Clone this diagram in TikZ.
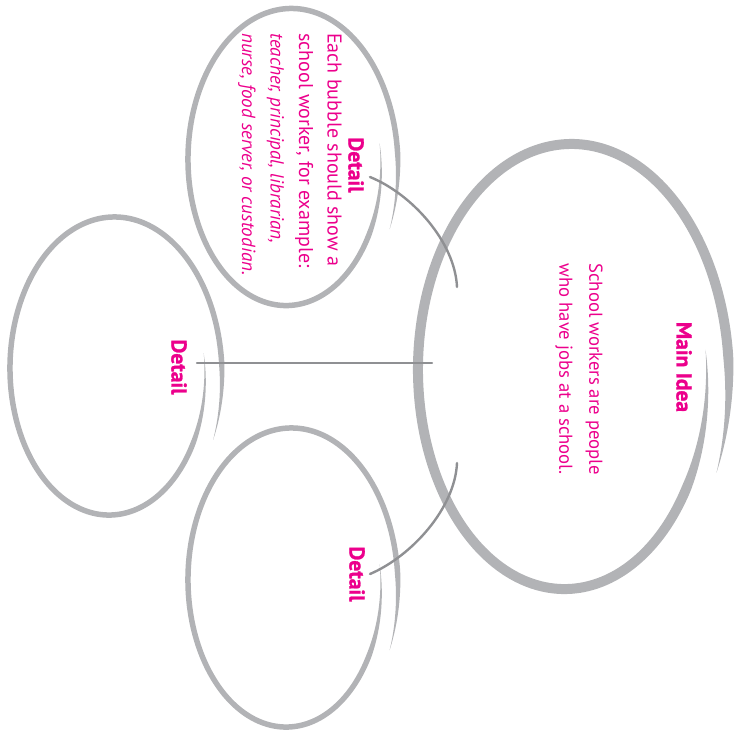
\documentclass[tikz,border=0pt]{standalone}
\usepackage{fontspec}
\setmainfont{PT Sans}
\newfontfamily\heavyfont{PT Sans Bold}[FakeBold=1.2]
\definecolor{idmag}{HTML}{EC008C}
\definecolor{bubgray}{HTML}{B2B3B6}
\definecolor{linkgray}{HTML}{8F9093}
\tikzset{
  bubline/.style={fill=bubgray},
  link/.style={draw=linkgray, line width=2.4pt, line cap=round},
  heading/.style={text=idmag, rotate=-90, inner sep=0pt, font=\fontsize{21.5}{24}\heavyfont},
  bodytext/.style={text=idmag, rotate=-90, inner sep=0pt, font=\fontsize{20}{28.5}\selectfont},
  mainbody/.style={text=idmag, rotate=-90, inner sep=0pt, font=\fontsize{18.7}{30}\selectfont},
}
% #1 cx, #2 cy, #3 a at left, #4 growth of a per turn, #5 b at left, #6 growth of b per turn, #7 start angle, #8 end angle, #9 width
\newcommand\brushbubble[9]{%
  \fill[bubline]
    plot[variable=\t,domain=#7:#8,samples=260]
      ({#1+(#3+#4*(\t-180)/360+0.5*#9*min(1,(\t-(#7))/40,((#8)-\t)/28))*cos(\t)},
       {#2+(#5+#6*(\t-180)/360+0.5*#9*min(1,(\t-(#7))/40,((#8)-\t)/28))*sin(\t)})
    -- plot[variable=\t,domain=#8:#7,samples=260]
      ({#1+(#3+#4*(\t-180)/360-0.5*#9*min(1,(\t-(#7))/40,((#8)-\t)/28))*cos(\t)},
       {#2+(#5+#6*(\t-180)/360-0.5*#9*min(1,(\t-(#7))/40,((#8)-\t)/28))*sin(\t)})
    -- cycle;}
\begin{document}
\begin{tikzpicture}[x=1pt,y=-1pt]
\useasboundingbox (0,0) rectangle (748,740);
% bubbles
\brushbubble{568}{374.75}{150}{22}{222.5}{33}{-7}{384}{10}
\brushbubble{288.75}{163.25}{100.75}{17}{148.5}{25}{-8.6}{384}{5.5}
\brushbubble{111.75}{372.25}{101.75}{17}{149}{25}{-8.1}{384.5}{5.5}
\brushbubble{288.75}{583.75}{100.75}{17}{149.5}{25}{-8.4}{384}{5.5}
% connector end points
\coordinate (topA) at (370,177);
\coordinate (topB) at (457,287);
\coordinate (midA) at (197,363);
\coordinate (midB) at (432,363);
\coordinate (botA) at (457,463);
\coordinate (botB) at (370,574);
\draw[link] (topA) .. controls (412,194) and (455,242) .. (topB);
\draw[link] (midA) -- (midB);
\draw[link] (botA) .. controls (455,508) and (412,556) .. (botB);
% texts
\node[heading] (mainT) at (684,367) {Main Idea};
\node[mainbody, align=center] (mainB) at (579,369) {School workers are people\\who have jobs at a school.};
\node[heading] (topT) at (356,165) {Detail};
\node[bodytext, align=left, anchor=west] (topBody) at (290,33) {Each bubble should show a\\school worker, for example:\\{\fontsize{19}{28.5}\selectfont\itshape teacher, principal, librarian,}\\{\fontsize{19}{28.5}\selectfont\itshape nurse, food server, or custodian.}};
\node[heading] (leftT) at (179,367) {Detail};
\node[heading] (botT) at (357,574) {Detail};
\end{tikzpicture}
\end{document}
